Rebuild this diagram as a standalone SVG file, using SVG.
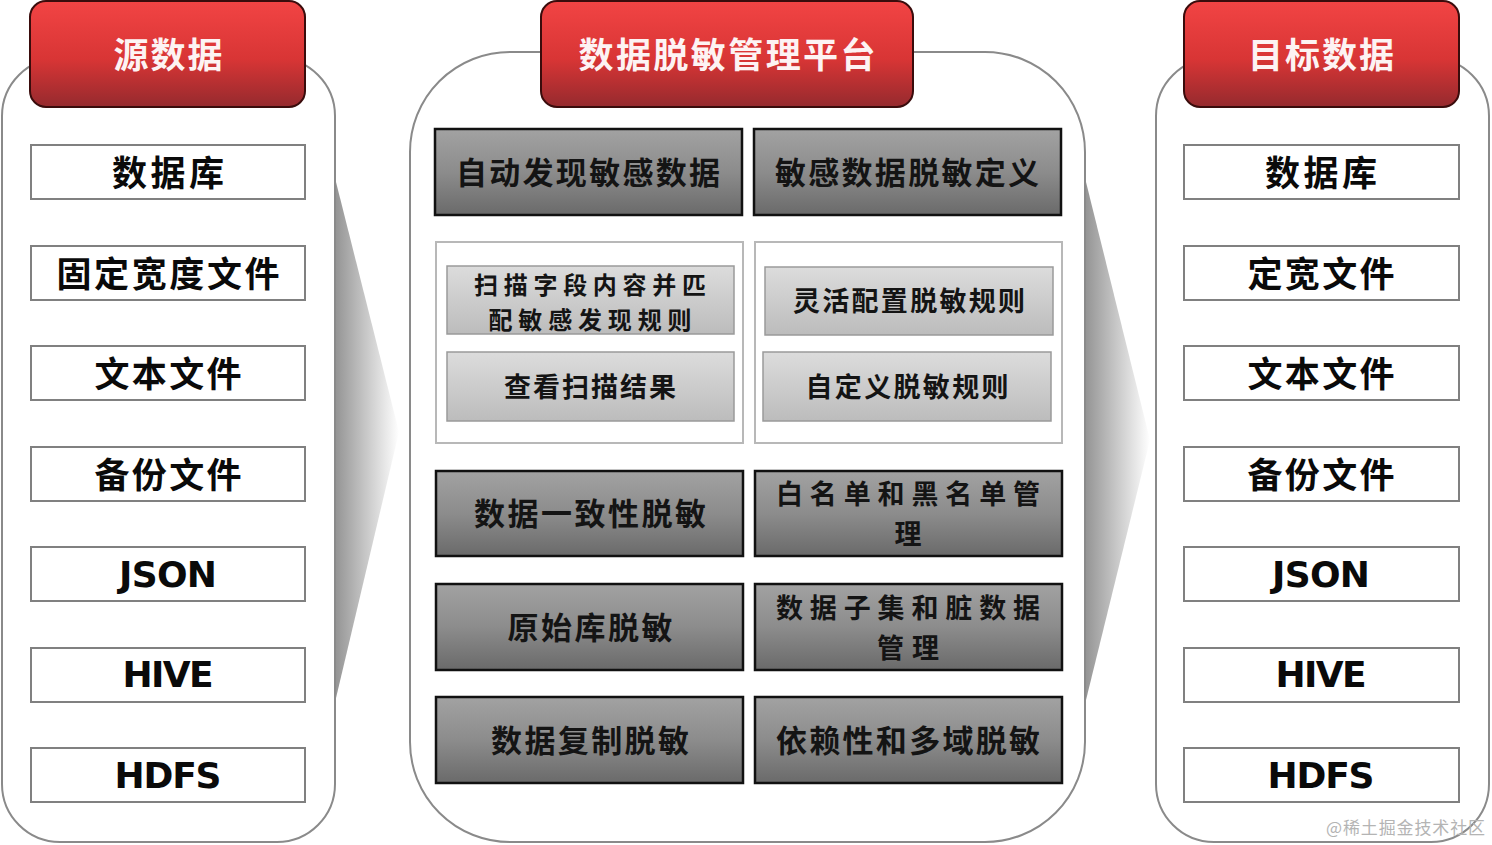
<svg xmlns="http://www.w3.org/2000/svg" width="1492" height="845" viewBox="0 0 1492 845">
<defs>
<linearGradient id="gRed" x1="0" y1="0" x2="0" y2="1">
<stop offset="0" stop-color="#f24444"/>
<stop offset="0.55" stop-color="#d83535"/>
<stop offset="1" stop-color="#952a2e"/>
</linearGradient>
<linearGradient id="gDark" x1="0" y1="0" x2="0" y2="1">
<stop offset="0" stop-color="#a2a2a2"/>
<stop offset="0.5" stop-color="#8c8c8c"/>
<stop offset="1" stop-color="#6a6a6a"/>
</linearGradient>
<linearGradient id="gLight" x1="0" y1="0" x2="0" y2="1">
<stop offset="0" stop-color="#dcdcdc"/>
<stop offset="1" stop-color="#bcbcbc"/>
</linearGradient>
<linearGradient id="gWedge" x1="0" y1="0" x2="1" y2="0">
<stop offset="0" stop-color="#959595"/>
<stop offset="1" stop-color="#ffffff"/>
</linearGradient>
</defs>
<style>
.panel{fill:#ffffff;stroke:#8a8a8a;stroke-width:2}
.head{fill:url(#gRed);stroke:#3a0c0c;stroke-width:2}
.htxt{font-family:"Noto Sans CJK SC","Noto Sans",sans-serif;font-weight:700;font-size:35px;fill:#fdf3f3;text-anchor:middle;dominant-baseline:central}
.item{fill:#ffffff;stroke:#808080;stroke-width:2}
.itxt{font-family:"Noto Sans CJK SC","Noto Sans",sans-serif;font-weight:700;font-size:35px;fill:#0a0a0a;text-anchor:middle;dominant-baseline:central}
.ltxt{font-family:"DejaVu Sans","Noto Sans",sans-serif;font-weight:700;font-size:36px;fill:#0a0a0a;text-anchor:middle;dominant-baseline:central}
.dark{fill:url(#gDark);stroke:#111111;stroke-width:2.5}
.dtxt{font-family:"Noto Sans CJK SC","Noto Sans",sans-serif;font-weight:700;font-size:31px;fill:#141414;text-anchor:middle;dominant-baseline:central}
.d2{font-size:27px}
.cont{fill:#ffffff;stroke:#b8b8b8;stroke-width:2}
.light{fill:url(#gLight);stroke:#9a9a9a;stroke-width:1.5}
.stxt{font-family:"Noto Sans CJK SC","Noto Sans",sans-serif;font-weight:700;font-size:27px;fill:#141414;text-anchor:middle;dominant-baseline:central}
.s2{font-size:24px}
.wm{font-family:"Noto Sans CJK SC","Noto Sans",sans-serif;font-size:17px;fill:#b4b4b4}
</style>
<rect width="1492" height="845" fill="#ffffff"/>

<g id="panel-source">
<rect class="panel" x="2" y="58" width="333" height="784" rx="58"/>
</g>
<g id="panel-platform">
<rect class="panel" x="410" y="52" width="675" height="790" rx="100"/>
</g>
<g id="panel-target">
<rect class="panel" x="1156" y="58" width="333" height="784" rx="58"/>
</g>

<g id="connectors">
<path d="M336 182 L399 432 L336 698 Z" fill="url(#gWedge)"/>
<path d="M1086 182 L1150 440 L1086 700 Z" fill="url(#gWedge)"/>
</g>

<g id="header-source">
<rect class="head" x="30" y="1" width="275" height="106" rx="16"/>
<text class="htxt" x="168" y="52" textLength="109">源数据</text>
</g>
<g id="header-platform">
<rect class="head" x="541" y="1" width="372" height="106" rx="16"/>
<text class="htxt" x="727" y="52" textLength="297">数据脱敏管理平台</text>
</g>
<g id="header-target">
<rect class="head" x="1184" y="1" width="275" height="106" rx="16"/>
<text class="htxt" x="1321" y="52" textLength="146">目标数据</text>
</g>

<g id="src-db"><rect class="item" x="31" y="145" width="274" height="54"/><text class="itxt" x="168" y="170" textLength="112">数据库</text></g>
<g id="src-fixed"><rect class="item" x="31" y="246" width="274" height="54"/><text class="itxt" x="168" y="271" textLength="223">固定宽度文件</text></g>
<g id="src-text"><rect class="item" x="31" y="346" width="274" height="54"/><text class="itxt" x="168" y="371" textLength="147">文本文件</text></g>
<g id="src-backup"><rect class="item" x="31" y="447" width="274" height="54"/><text class="itxt" x="168" y="472" textLength="147">备份文件</text></g>
<g id="src-json"><rect class="item" x="31" y="547" width="274" height="54"/><text class="ltxt" x="168" y="574" textLength="98">JSON</text></g>
<g id="src-hive"><rect class="item" x="31" y="648" width="274" height="54"/><text class="ltxt" x="168" y="674" textLength="91">HIVE</text></g>
<g id="src-hdfs"><rect class="item" x="31" y="748" width="274" height="54"/><text class="ltxt" x="168" y="775" textLength="107">HDFS</text></g>

<g id="tgt-db"><rect class="item" x="1184" y="145" width="275" height="54"/><text class="itxt" x="1321" y="170" textLength="112">数据库</text></g>
<g id="tgt-fixed"><rect class="item" x="1184" y="246" width="275" height="54"/><text class="itxt" x="1321" y="271" textLength="147">定宽文件</text></g>
<g id="tgt-text"><rect class="item" x="1184" y="346" width="275" height="54"/><text class="itxt" x="1321" y="371" textLength="147">文本文件</text></g>
<g id="tgt-backup"><rect class="item" x="1184" y="447" width="275" height="54"/><text class="itxt" x="1321" y="472" textLength="147">备份文件</text></g>
<g id="tgt-json"><rect class="item" x="1184" y="547" width="275" height="54"/><text class="ltxt" x="1321" y="574" textLength="98">JSON</text></g>
<g id="tgt-hive"><rect class="item" x="1184" y="648" width="275" height="54"/><text class="ltxt" x="1321" y="674" textLength="91">HIVE</text></g>
<g id="tgt-hdfs"><rect class="item" x="1184" y="748" width="275" height="54"/><text class="ltxt" x="1321" y="775" textLength="107">HDFS</text></g>

<g id="auto-discover"><rect class="dark" x="435" y="129" width="307" height="86"/><text class="dtxt" x="588" y="170" textLength="264">自动发现敏感数据</text></g>
<g id="mask-define"><rect class="dark" x="754" y="129" width="307" height="86"/><text class="dtxt" x="907" y="170" textLength="264">敏感数据脱敏定义</text></g>

<g id="discover-group">
<rect class="cont" x="436" y="242" width="307" height="201"/>
<g id="scan-rules"><rect class="light" x="447" y="266" width="287" height="68"/>
<text class="stxt s2"><tspan x="590" y="283" textLength="232">扫描字段内容并匹</tspan><tspan x="590" y="318" textLength="203">配敏感发现规则</tspan></text></g>
<g id="scan-result"><rect class="light" x="447" y="352" width="287" height="69"/><text class="stxt" x="590" y="385" textLength="172">查看扫描结果</text></g>
</g>
<g id="define-group">
<rect class="cont" x="755" y="242" width="307" height="201"/>
<g id="flex-rules"><rect class="light" x="765" y="267" width="288" height="68"/><text class="stxt" x="909" y="299" textLength="232">灵活配置脱敏规则</text></g>
<g id="custom-rules"><rect class="light" x="763" y="352" width="288" height="69"/><text class="stxt" x="907" y="385" textLength="203">自定义脱敏规则</text></g>
</g>

<g id="consistent"><rect class="dark" x="436" y="471" width="307" height="85"/><text class="dtxt" x="590" y="511" textLength="232">数据一致性脱敏</text></g>
<g id="whitelist"><rect class="dark" x="755" y="471" width="307" height="85"/><text class="dtxt d2"><tspan x="908" y="492" textLength="264">白名单和黑名单管</tspan><tspan x="908" y="532">理</tspan></text></g>
<g id="origin"><rect class="dark" x="436" y="584" width="307" height="86"/><text class="dtxt" x="590" y="625" textLength="165">原始库脱敏</text></g>
<g id="subset"><rect class="dark" x="755" y="584" width="307" height="86"/><text class="dtxt d2"><tspan x="908" y="606" textLength="264">数据子集和脏数据</tspan><tspan x="908" y="646" textLength="62">管理</tspan></text></g>
<g id="replicate"><rect class="dark" x="436" y="697" width="307" height="86"/><text class="dtxt" x="590" y="738" textLength="198">数据复制脱敏</text></g>
<g id="dependency"><rect class="dark" x="755" y="697" width="307" height="86"/><text class="dtxt" x="908" y="738" textLength="264">依赖性和多域脱敏</text></g>

<text class="wm" x="1326" y="834" textLength="159">@稀土掘金技术社区</text>
</svg>
